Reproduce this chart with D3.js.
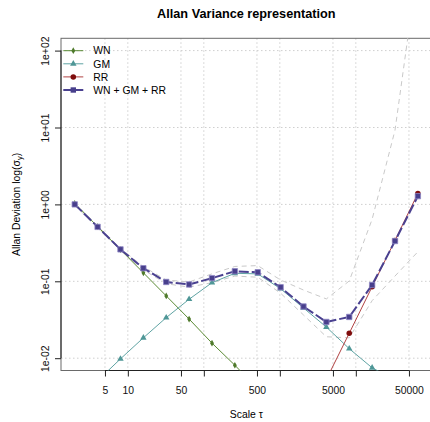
<!DOCTYPE html>
<html>
<head>
<meta charset="utf-8">
<script src="https://cdn.jsdelivr.net/npm/d3@7"></script>
<style>
  body { margin: 0; background: #fff; }
  svg { font-family: "Liberation Sans", Arial, Helvetica, sans-serif; }
</style>
</head>
<body>
<div id="chart"></div>
<script>
// scales (tau) and the fitted / component values
var tau = [2, 4, 8, 16, 32, 64, 128, 256, 512, 1024, 2048, 4096, 8192, 16384, 32768, 65536];
var wn = [1.03, 0.515, 0.258, 0.129, 0.0646, 0.0323, 0.0157, 0.0081, 0.0040, null, null, null, null, null, null, null];
var gm = [0.0027, 0.0051, 0.0098, 0.0184, 0.0337, 0.0584, 0.096, 0.127, 0.125, 0.080, 0.045, 0.0254, 0.0133, 0.0075, 0.0052, 0.0037];
var rr = [null, null, null, null, null, null, null, null, null, null, null, 0.0053, 0.0211, 0.085, 0.34, 1.39];
var total = [1.0, 0.51, 0.26, 0.148, 0.098, 0.091, 0.11, 0.135, 0.131, 0.0836, 0.047, 0.0296, 0.0344, 0.0895, 0.334, 1.28];
var ciUpper = [1.03, 0.525, 0.268, 0.155, 0.104, 0.098, 0.125, 0.156, 0.160, 0.104, 0.077, 0.059, 0.101, 0.64, 9.2, 1300];
var ciLower = [0.975, 0.497, 0.252, 0.141, 0.093, 0.084, 0.096, 0.117, 0.113, 0.070, 0.0365, 0.019, 0.0184, 0.056, 0.117, 0.242];

var xTicks = [5, 10, 50, 100, 500, 1000, 5000, 10000, 50000];
var xTickLabels = ["5", "10", "50", "", "500", "", "5000", "", "50000"];
var yTicks = [1e-2, 1e-1, 1e0, 1e1, 1e2];
var yTickLabels = ["1e-02", "1e-01", "1e+00", "1e+01", "1e+02"];

var legendNames = ["WN", "GM", "RR", "WN + GM + RR"];

var width = 430, height = 422;
var plotLeft = 61, plotRight = 431.6, plotTop = 38.3, plotBottom = 370.5;

// R style 4% padding of the log range
var lx0 = Math.log10(tau[0]), lx1 = Math.log10(tau[tau.length - 1]);
var px = 0.04 * (lx1 - lx0);
var ly0 = -2, ly1 = 2;
var py = 0.04 * (ly1 - ly0);

var x = d3.scaleLog().domain([Math.pow(10, lx0 - px), Math.pow(10, lx1 + px)]).range([plotLeft, plotRight]);
var y = d3.scaleLog().domain([Math.pow(10, ly0 - py), Math.pow(10, ly1 + py)]).range([plotBottom, plotTop]);

var svg = d3.select("#chart").append("svg")
    .attr("width", width)
    .attr("height", height);

svg.append("defs").append("clipPath")
    .attr("id", "plot-clip")
  .append("rect")
    .attr("x", plotLeft).attr("y", plotTop)
    .attr("width", plotRight - plotLeft).attr("height", plotBottom - plotTop);

// grid
var grid = svg.append("g").attr("class", "grid");
grid.selectAll("line.gx")
    .data(xTicks)
  .enter().append("line")
    .attr("x1", function(d) { return x(d); })
    .attr("x2", function(d) { return x(d); })
    .attr("y1", plotTop).attr("y2", plotBottom)
    .style("stroke", "#cfcfcf")
    .style("stroke-dasharray", "1.5,2.5");
grid.selectAll("line.gy")
    .data(yTicks)
  .enter().append("line")
    .attr("x1", plotLeft).attr("x2", plotRight)
    .attr("y1", function(d) { return y(d); })
    .attr("y2", function(d) { return y(d); })
    .style("stroke", "#cfcfcf")
    .style("stroke-dasharray", "1.5,2.5");

// box
svg.append("rect")
    .attr("x", plotLeft).attr("y", plotTop)
    .attr("width", plotRight - plotLeft).attr("height", plotBottom - plotTop)
    .style("fill", "none")
    .style("stroke", "#6a6a6a")
    .style("stroke-width", 1);

// axes
var xAxis = d3.axisBottom(x)
    .tickValues(xTicks)
    .tickSize(6)
    .tickPadding(6)
    .tickFormat(function(d, i) { return xTickLabels[i]; });
var gx = svg.append("g")
    .attr("transform", "translate(0," + plotBottom + ")")
    .call(xAxis);
gx.attr("font-family", null).attr("font-size", null);
gx.select(".domain")
    .attr("d", "M" + x(xTicks[0]) + ",0H" + x(xTicks[xTicks.length - 1]))
    .style("stroke", "#222");
gx.selectAll(".tick line").style("stroke", "#222");
gx.selectAll(".tick text")
    .style("font-size", "10.4px")
    .style("fill", "#111")
    .attr("dy", null)
    .attr("y", 23.5);

var yAxis = d3.axisLeft(y)
    .tickValues(yTicks)
    .tickSize(6)
    .tickFormat(function(d, i) { return yTickLabels[i]; });
var gy = svg.append("g")
    .attr("transform", "translate(" + plotLeft + ",0)")
    .call(yAxis);
gy.attr("font-family", null).attr("font-size", null);
gy.select(".domain")
    .attr("d", "M0," + y(yTicks[0]) + "V" + y(yTicks[yTicks.length - 1]))
    .style("stroke", "#222");
gy.selectAll(".tick line").style("stroke", "#222");
gy.selectAll(".tick text")
    .attr("x", null).attr("dy", null)
    .attr("transform", "translate(-12.5,0) rotate(-90)")
    .style("text-anchor", "middle")
    .style("font-size", "10.4px")
    .style("fill", "#111");

// titles
svg.append("text")
    .attr("x", (plotLeft + plotRight) / 2)
    .attr("y", 17.5)
    .style("text-anchor", "middle")
    .style("font-weight", "bold")
    .style("font-size", "12.7px")
    .text("Allan Variance representation");

svg.append("text")
    .attr("x", (plotLeft + plotRight) / 2)
    .attr("y", 418)
    .style("text-anchor", "middle")
    .style("font-size", "10.4px")
    .text("Scale \u03c4");

var ylab = svg.append("text")
    .attr("transform", "translate(19.5," + ((plotTop + plotBottom) / 2) + ") rotate(-90)")
    .style("text-anchor", "middle")
    .style("font-size", "10.4px");
ylab.append("tspan").text("Allan Deviation log(\u03c3");
ylab.append("tspan").attr("dy", 2.5).style("font-size", "7.5px").text("y");
ylab.append("tspan").attr("dy", -2.5).text(")");

// marks
var plot = svg.append("g").attr("clip-path", "url(#plot-clip)");

function series(vals) {
  return tau.map(function(t, i) { return { t: t, v: vals[i] }; });
}

var line = d3.line()
    .defined(function(d) { return d.v != null; })
    .x(function(d) { return x(d.t); })
    .y(function(d) { return y(d.v); });

// confidence band (dashed grey)
[ciUpper, ciLower].forEach(function(vals) {
  plot.append("path")
      .datum(series(vals))
      .attr("d", line)
      .style("fill", "none")
      .style("stroke", "#c9c9c9")
      .style("stroke-width", 1)
      .style("stroke-dasharray", "5,4");
});

var styles = [
  { vals: wn, color: "#4f7a2b", lineColor: "#5b8a35", width: 1, shape: d3.symbolDiamond, size: 13 },
  { vals: gm, color: "#4f9797", lineColor: "#5fa3a3", width: 1, shape: d3.symbolTriangle, size: 18 },
  { vals: rr, color: "#7f0d0d", lineColor: "#b04242", width: 1, shape: d3.symbolCircle, size: 24 },
  { vals: total, color: "#483f8c", lineColor: "#4a4190", width: 2, shape: d3.symbolSquare, size: 29, dash: "10,3" }
];

styles.forEach(function(s) {
  var data = series(s.vals);
  plot.append("path")
      .datum(data)
      .attr("d", line)
      .style("fill", "none")
      .style("stroke", s.lineColor)
      .style("stroke-width", s.width)
      .style("stroke-dasharray", s.dash || null);
  plot.selectAll(null)
      .data(data.filter(function(d) { return d.v != null; }))
    .enter().append("path")
      .attr("d", d3.symbol().type(s.shape).size(s.size))
      .attr("transform", function(d) { return "translate(" + x(d.t) + "," + y(d.v) + ")"; })
      .style("fill", s.color)
      .style("stroke", s.shape === d3.symbolSquare ? "#8f88c4" : "none")
      .style("stroke-width", 0.8);
});

// legend
var legend = svg.append("g").attr("class", "legend");
legendNames.forEach(function(name, i) {
  var s = styles[i];
  var ly = 50.7 + i * 13.1;
  legend.append("line")
      .attr("x1", 63.3).attr("x2", 83.3)
      .attr("y1", ly).attr("y2", ly)
      .style("stroke", s.lineColor)
      .style("stroke-width", s.width);
  legend.append("path")
      .attr("d", d3.symbol().type(s.shape).size(s.size))
      .attr("transform", "translate(73.3," + ly + ")")
      .style("fill", s.color);
  legend.append("text")
      .attr("x", 93.3)
      .attr("y", ly + 3.7)
      .style("font-size", "10.4px")
      .text(name);
});
</script>
</body>
</html>
